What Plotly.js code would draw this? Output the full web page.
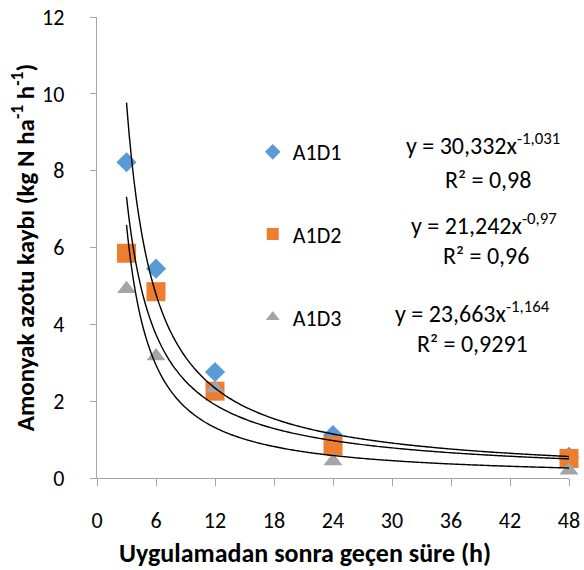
<!DOCTYPE html>
<html>
<head>
<meta charset="utf-8">
<script src="https://cdn.plot.ly/plotly-3.0.1.min.js"></script>
<style>html,body{margin:0;padding:0;background:#fff;}#chart{width:584px;height:570px;}</style>
</head>
<body>
<div id="chart"></div>
<script>
const hours = [3, 6, 12, 24, 48];
const a1d1 = [8.22, 5.45, 2.76, 1.12, 0.55];
const a1d2 = [5.85, 4.85, 2.26, 0.84, 0.51];
const a1d3 = [4.92, 3.17, 2.34, 0.44, 0.2];
const seriesNames = ['A1D1', 'A1D2', 'A1D3'];
const seriesColors = ['#5B9BD5', '#ED7D31', '#A5A5A5'];
const seriesSymbols = ['diamond', 'square', 'triangle-up'];
// power trendline coefficients y = a * x^b (from the chart's equations)
const trendA = [30.332, 21.242, 23.663];
const trendB = [-1.031, -0.97, -1.164];
const trendLabels = ['y = 30,332x<sup>-1,031</sup>', 'y = 21,242x<sup>-0,97</sup>', 'y = 23,663x<sup>-1,164</sup>'];
const r2Labels = ['R² = 0,98', 'R² = 0,96', 'R² = 0,9291'];
const xTicks = [0, 6, 12, 18, 24, 30, 36, 42, 48];
const yTicks = [0, 2, 4, 6, 8, 10, 12];
const xTitle = 'Uygulamadan sonra geçen süre (h)';
const yTitle = 'Amonyak azotu kaybı (kg N ha<sup>-1</sup> h<sup>-1</sup>)';

const FONT = 'Carlito, Lato, "Liberation Sans", sans-serif';
const allSeries = [a1d1, a1d2, a1d3];
const markerSizes = [15.5, 19, 16.5];
const legendIds = ['legend', 'legend2', 'legend3'];
const traces = [];
allSeries.forEach((vals, i) => {
  traces.push({
    x: hours, y: vals, type: 'scatter', mode: 'markers', name: seriesNames[i],
    legend: legendIds[i],
    marker: {symbol: seriesSymbols[i], color: seriesColors[i], size: markerSizes[i], line: {width: 0}},
    cliponaxis: false
  });
});
// trendlines sampled from the chart's equations
const trendX = [];
for (let x = 3; x <= 48.0001; x += 0.25) trendX.push(x);
trendA.forEach((a, i) => {
  traces.push({
    x: trendX, y: trendX.map(x => a * Math.pow(x, trendB[i])), type: 'scatter', mode: 'lines',
    showlegend: false, hoverinfo: 'skip', line: {color: '#000', width: 1.4, shape: 'spline'}
  });
});

const eqPos = [[39.3, 8.7], [39.4, 6.6], [38.2, 4.33]];
const r2Pos = [[39.8, 7.76], [39.6, 5.78], [38.2, 3.49]];
const annotations = [];
trendLabels.forEach((t, i) => {
  annotations.push({x: eqPos[i][0], y: eqPos[i][1], xref: 'x', yref: 'y', text: t, showarrow: false,
    xanchor: 'center', yanchor: 'middle', font: {family: FONT, size: 24, color: '#000'}});
  annotations.push({x: r2Pos[i][0], y: r2Pos[i][1], xref: 'x', yref: 'y', text: r2Labels[i], showarrow: false,
    xanchor: 'center', yanchor: 'middle', font: {family: FONT, size: 24, color: '#000'}});
});
// x axis title, centred like the reference (slightly left of plot centre)
annotations.push({x: 0.44, y: -0.163, xref: 'paper', yref: 'paper', text: '<b>' + xTitle + '</b>', showarrow: false,
  xanchor: 'center', yanchor: 'middle', font: {family: FONT, size: 26, color: '#000'}});

const legendBase = {x: 0.33, xanchor: 'left', yanchor: 'middle', bgcolor: 'rgba(0,0,0,0)',
  font: {family: FONT, size: 22, color: '#000'}, itemsizing: 'constant'};

const layout = {
  width: 584, height: 570,
  margin: {l: 97, r: 15, t: 17, b: 92},
  paper_bgcolor: '#fff', plot_bgcolor: '#fff',
  font: {family: FONT, color: '#000'},
  xaxis: {
    range: [0, 48], tickvals: xTicks, ticktext: xTicks.map(String), showgrid: false, zeroline: false,
    showline: true, linecolor: '#A6A6A6', linewidth: 1.3, ticks: 'outside', ticklen: 7, tickcolor: '#A6A6A6',
    ticklabelstandoff: 15,
    tickfont: {family: FONT, size: 22, color: '#000'}
  },
  yaxis: {
    range: [0, 12], tickvals: yTicks, ticktext: yTicks.map(String), showgrid: false, zeroline: false,
    showline: true, linecolor: '#A6A6A6', linewidth: 1.3, ticks: 'outside', ticklen: 6, tickcolor: '#A6A6A6',
    ticklabelstandoff: 21,
    tickfont: {family: FONT, size: 22, color: '#000'},
    title: {text: '<b>' + yTitle + '</b>', font: {family: FONT, size: 25, color: '#000'}, standoff: 0}
  },
  legend: Object.assign({}, legendBase, {y: 0.707}),
  legend2: Object.assign({}, legendBase, {y: 0.529}),
  legend3: Object.assign({}, legendBase, {y: 0.349}),
  annotations: annotations,
  showlegend: true
};

Plotly.newPlot('chart', traces, layout, {staticPlot: true, displayModeBar: false});
</script>
</body>
</html>
